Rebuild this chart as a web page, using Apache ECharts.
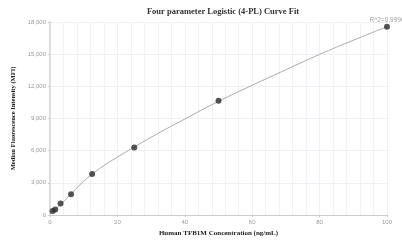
<!DOCTYPE html>
<html>
<head>
<meta charset="UTF-8">
<title>4-PL Curve Fit</title>
<script src="https://cdn.jsdelivr.net/npm/echarts@6/dist/echarts.min.js"></script>
</head>
<body style="margin:0">
	<div id="main" style="width: 402px; height: 244px;"></div>

	<script type="text/javascript">
		// measured standards
		var concs = [0.78, 1.56, 3.125, 6.25, 12.5, 25, 50, 100];
		var mfi = [380, 520, 1070, 1930, 3830, 6300, 10650, 17560];
		// fitted curve
		var fitX = [0, 2, 5, 10, 15, 20, 30, 40, 50, 60, 70, 80, 90, 100];
		var fitY = [100, 650, 1560, 3150, 4400, 5400, 7250, 8950, 10600, 12100, 13550, 14980, 16300, 17560];
		var rSquared = 'R^2=0.9996';

		var serif = 'Times New Roman, Liberation Serif, serif';
		var points = concs.map(function (c, i) {
			var item = { value: [c, mfi[i]] };
			if (i === concs.length - 1) {
				item.label = { show: true, formatter: rSquared, position: 'top', distance: 0,
					color: '#888', fontSize: 6.5, fontFamily: 'Arial, Liberation Sans, sans-serif' };
			}
			return item;
		});

		var myChart = echarts.init(document.getElementById('main'));
		myChart.setOption({
			animation : false,
			title : {
				text : 'Four parameter Logistic (4-PL) Curve Fit',
				left : 218,
				textAlign : 'center',
				top : 2,
				textStyle : { fontFamily : serif, fontSize : 8.5, fontWeight : 'bold', color : '#333' }
			},
			grid : { left : 50, right : 15, top : 22, bottom : 29 },
			xAxis : {
				type : 'value',
				min : 0, max : 100, interval : 20,
				name : 'Human TFB1M Concentration (ng/mL)',
				nameLocation : 'middle',
				nameGap : 13,
				nameTextStyle : { fontFamily : serif, fontSize : 7, fontWeight : 'bold', color : '#222' },
				axisLine : { lineStyle : { color : '#ccc', width : 1 } },
				axisTick : { show : true, length : 2, lineStyle : { color : '#ccc' } },
				axisLabel : { fontSize : 6, color : '#999', margin : 4 },
				splitLine : { show : true, lineStyle : { color : '#eef0f5', width : 1 } },
				minorTick : { show : false, splitNumber : 5 },
				minorSplitLine : { show : true, lineStyle : { color : '#f1f2f6', width : 1 } }
			},
			yAxis : {
				type : 'value',
				min : 0, max : 18000, interval : 3000,
				name : 'Median Fluorescence Intensity (MFI)',
				nameLocation : 'middle',
				nameGap : 31,
				nameTextStyle : { fontFamily : serif, fontSize : 6.5, fontWeight : 'bold', color : '#222' },
				axisLine : { show : true, lineStyle : { color : '#ddd', width : 2 } },
				axisTick : { show : true, length : 2, lineStyle : { color : '#ccc' } },
				axisLabel : {
					fontSize : 6, color : '#999', margin : 4,
					formatter : function (v) { return v.toLocaleString('en-US'); }
				},
				splitLine : { show : true, lineStyle : { color : '#eef0f5', width : 1 } }
			},
			series : [ {
				type : 'line',
				data : fitX.map(function (x, i) { return [x, fitY[i]]; }),
				smooth : 0.4,
				showSymbol : false,
				lineStyle : { color : '#aaa', width : 1 },
				z : 1
			}, {
				type : 'scatter',
				data : points,
				symbolSize : 6,
				itemStyle : { color : '#2b2b2b' },
				z : 3
			} ]
		});
	</script>
</body>
</html>
